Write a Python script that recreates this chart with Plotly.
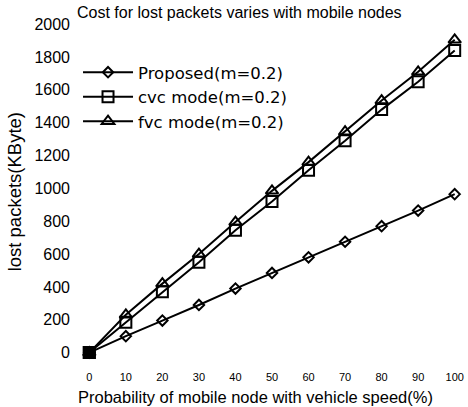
import plotly.graph_objects as go

x_vals = [0, 10, 20, 30, 40, 50, 60, 70, 80, 90, 100]
proposed = [0, 100, 195, 290, 390, 485, 580, 675, 770, 865, 965]
cvc = [0, 185, 370, 550, 745, 920, 1110, 1290, 1480, 1650, 1840]
fvc = [0, 230, 420, 600, 795, 985, 1160, 1345, 1535, 1710, 1905]
y_ticks = [0, 200, 400, 600, 800, 1000, 1200, 1400, 1600, 1800, 2000]
names = ["Proposed(m=0.2)", "cvc mode(m=0.2)", "fvc mode(m=0.2)"]

FONT = "Liberation Sans, Arial, sans-serif"

fig = go.Figure()
specs = [
    (proposed, "diamond-open", 8),
    (cvc, "square-open", 11),
    (fvc, "triangle-up-open", 11),
]
for (vals, sym, size), name in zip(specs, names):
    fig.add_trace(go.Scatter(
        x=x_vals, y=vals, name=name, mode="lines+markers",
        line=dict(color="black", width=2),
        marker=dict(symbol=sym, size=size, color="black",
                    line=dict(color="black", width=2)),
    ))
# overlapping origin point appears as a solid square in the reference
fig.add_trace(go.Scatter(
    x=x_vals[:1], y=cvc[:1], mode="markers", showlegend=False, hoverinfo="skip",
    marker=dict(symbol="square", size=11, color="black",
                line=dict(color="black", width=2)),
))

W, H = 468, 407
pl, pr, pt, pb = 82, 4, 16, 38
pw, ph = W - pl - pr, H - pt - pb
def px(xp):
    return (xp - pl) / pw
def py(yp):
    return (H - pb - yp) / ph

fig.update_layout(
    width=W, height=H,
    margin=dict(l=pl, r=pr, t=pt, b=pb),
    paper_bgcolor="white", plot_bgcolor="white",
    font=dict(family=FONT, color="black"),
    showlegend=True,
    legend=dict(x=px(78), y=py(55), xanchor="left", yanchor="top",
                bgcolor="rgba(0,0,0,0)",
                font=dict(size=16.5, family="DejaVu Sans, sans-serif"),
                tracegroupgap=0, itemwidth=50),
    xaxis=dict(range=[-2, 102], tickvals=x_vals, ticktext=[str(v) for v in x_vals],
               showgrid=False, zeroline=False, showline=False,
               tickfont=dict(size=11), ticks="", ticklabelstandoff=0),
    yaxis=dict(range=[-100, 2050], tickvals=y_ticks, ticktext=[str(v) for v in y_ticks],
               showgrid=False, zeroline=False, showline=False,
               tickfont=dict(size=16), ticks="", ticklabelstandoff=11),
)
fig.add_annotation(text="Cost for lost packets varies with mobile nodes",
                   x=px(240), y=py(12), xref="paper", yref="paper",
                   xanchor="center", yanchor="middle",
                   showarrow=False, font=dict(size=16))
fig.add_annotation(text="Probability of mobile node with vehicle speed(%)",
                   x=px(256), y=py(397), xref="paper", yref="paper",
                   xanchor="center", yanchor="middle",
                   showarrow=False, font=dict(size=16.5))
fig.add_annotation(text="lost packets(KByte)", textangle=-90,
                   x=px(14), y=py(192), xref="paper", yref="paper",
                   xanchor="center", yanchor="middle",
                   showarrow=False, font=dict(size=18.5))

fig.write_html("out.html", post_script="document.body.style.margin='0';",
               config={"displayModeBar": False})
